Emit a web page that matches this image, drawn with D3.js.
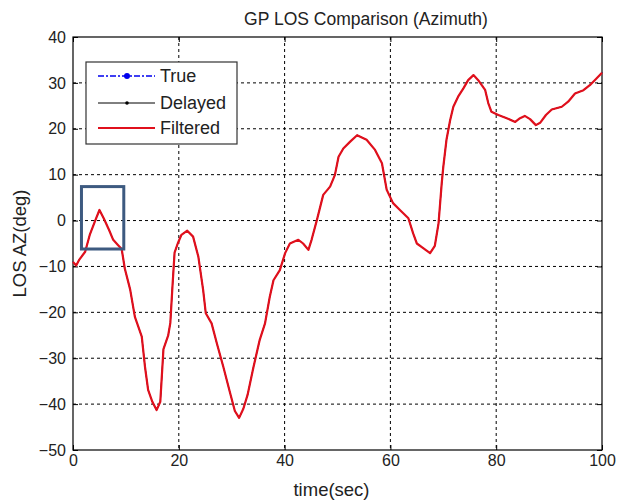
<!DOCTYPE html>
<html>
<head>
<meta charset="utf-8">
<script src="https://cdn.jsdelivr.net/npm/d3@7"></script>
<style>
  html, body { margin: 0; padding: 0; background: #fff; }
  svg { display: block; }
  text { font-family: "Liberation Sans", Arial, sans-serif; fill: #222; }
</style>
</head>
<body>
<svg id="chart" width="629" height="502"></svg>
<script>
// ---- data ----
const time = [0, 0.6, 1.2, 2.3, 3.2, 4.2, 5.0, 5.8, 6.8, 7.6, 8.4, 9.2, 9.8, 10.8, 11.7, 13.0, 13.6, 14.2, 15.0, 15.8, 16.5, 17.1, 18.0, 18.4, 18.8, 19.2, 19.8, 20.5, 21.6, 22.7, 23.7, 24.6, 25.1, 26.2, 27.2, 28.4, 29.7, 30.6, 31.4, 32.2, 33.0, 34.1, 35.3, 36.3, 37.2, 37.9, 39.1, 40.1, 41.0, 42.6, 43.5, 44.5, 45.1, 46.1, 47.3, 48.6, 49.5, 50.2, 51.1, 52.4, 53.7, 55.5, 57.1, 58.4, 59.3, 60.5, 61.8, 63.4, 64.3, 65.0, 66.2, 67.5, 68.4, 69.1, 69.7, 70.0, 70.6, 71.3, 71.9, 72.8, 73.8, 74.7, 75.7, 76.6, 77.9, 78.5, 79.1, 80.4, 82.0, 83.6, 84.5, 85.4, 86.4, 87.5, 88.3, 89.4, 90.5, 92.4, 93.6, 94.9, 96.5, 97.7, 99.0, 100];
const filtered = [-9, -9.8, -8.5, -6.8, -3, 0, 2.3, 0.5, -2, -4.2, -5.2, -6.2, -10.5, -15, -21, -25.3, -31.8, -36.9, -39.5, -41.3, -39.5, -28, -25, -22.3, -14.4, -7, -5, -3.1, -2.2, -3.5, -7.9, -15.1, -20.2, -22.4, -26.8, -31.8, -37.6, -41.5, -43, -41, -38, -32, -26, -22.4, -16.6, -13, -10.8, -7.1, -5.0, -4.2, -5.0, -6.4, -4.2, 0.1, 5.6, 7.4, 9.9, 13.9, 15.7, 17.2, 18.6, 17.6, 15.4, 12.5, 6.7, 3.8, 2.3, 0.5, -2.8, -5.0, -6.0, -7.1, -5.5, -0.6, 8.1, 11.7, 17.6, 21.9, 24.8, 27.0, 28.8, 30.6, 31.7, 30.6, 28.5, 25.6, 23.7, 23.0, 22.3, 21.5, 22.3, 22.8, 22.1, 20.8, 21.3, 23.0, 24.2, 24.8, 25.9, 27.7, 28.4, 29.5, 31, 32.2];
const trueVals = filtered.slice();     // hidden beneath the filtered curve
const delayedVals = filtered.slice();  // hidden beneath the filtered curve
const xTicks = [0, 20, 40, 60, 80, 100];
const yTicks = [-50, -40, -30, -20, -10, 0, 10, 20, 30, 40];
const legendLabels = ["True", "Delayed", "Filtered"];
const highlightBox = { t0: 1.6, t1: 9.6, v0: -6.2, v1: 7.4 };

// ---- layout ----
const svg = d3.select("#chart");
const L = 73, R = 602, T = 37, B = 450;
const x = d3.scaleLinear().domain([0, 100]).range([L, R]);
const y = d3.scaleLinear().domain([-50, 40]).range([B, T]);

// grid
const grid = svg.append("g");
grid.selectAll(".gx").data(xTicks.slice(1, -1)).enter().append("line")
  .attr("x1", d => x(d)).attr("x2", d => x(d)).attr("y1", T).attr("y2", B)
  .attr("stroke", "#000").attr("stroke-width", 1).attr("stroke-dasharray", "3,3");
grid.selectAll(".gy").data(yTicks.slice(1, -1)).enter().append("line")
  .attr("x1", L).attr("x2", R).attr("y1", d => y(d)).attr("y2", d => y(d))
  .attr("stroke", "#000").attr("stroke-width", 1).attr("stroke-dasharray", "3,3");

// axes (inward ticks, MATLAB style)
const fs = "16px";
const xAxisB = d3.axisBottom(x).tickValues(xTicks).tickSizeInner(-5).tickSizeOuter(0).tickPadding(5);
const xAxisT = d3.axisTop(x).tickValues(xTicks).tickSizeInner(-5).tickSizeOuter(0).tickFormat("");
const yAxisL = d3.axisLeft(y).tickValues(yTicks).tickSizeInner(-5).tickSizeOuter(0).tickPadding(7);
const yAxisR = d3.axisRight(y).tickValues(yTicks).tickSizeInner(-5).tickSizeOuter(0).tickFormat("");

function styleAxis(g) {
  g.select(".domain").remove();
  g.selectAll("line").attr("stroke", "#000");
  g.selectAll("text").attr("font-size", fs).attr("fill", "#222")
    .attr("font-family", "'Liberation Sans', Arial, sans-serif");
}
svg.append("g").attr("transform", `translate(0,${B})`).call(xAxisB).call(styleAxis);
svg.append("g").attr("transform", `translate(0,${T})`).call(xAxisT).call(styleAxis);
svg.append("g").attr("transform", `translate(${L},0)`).call(yAxisL).call(styleAxis);
svg.append("g").attr("transform", `translate(${R},0)`).call(yAxisR).call(styleAxis);

// frame
svg.append("rect").attr("x", L).attr("y", T).attr("width", R - L).attr("height", B - T)
  .attr("fill", "none").attr("stroke", "#000").attr("stroke-width", 1.2);

// lines
const mk = vals => d3.line().x((d, i) => x(time[i])).y(d => y(d))(vals);
svg.append("path").attr("d", mk(trueVals)).attr("fill", "none")
  .attr("stroke", "#0000ee").attr("stroke-width", 1);
svg.append("path").attr("d", mk(delayedVals)).attr("fill", "none")
  .attr("stroke", "#000").attr("stroke-width", 1);
svg.append("path").attr("d", mk(filtered)).attr("fill", "none")
  .attr("stroke", "#e0101c").attr("stroke-width", 2.2).attr("stroke-linejoin", "round");

// highlight box
svg.append("rect")
  .attr("x", x(highlightBox.t0)).attr("y", y(highlightBox.v1))
  .attr("width", x(highlightBox.t1) - x(highlightBox.t0))
  .attr("height", y(highlightBox.v0) - y(highlightBox.v1))
  .attr("fill", "none").attr("stroke", "#3d5a80").attr("stroke-width", 3);

// legend
const lg = svg.append("g");
lg.append("rect").attr("x", 86).attr("y", 62).attr("width", 151).attr("height", 82)
  .attr("fill", "#fff").attr("stroke", "#333").attr("stroke-width", 1.2);
const ly = [76, 103, 128];
// True
lg.append("line").attr("x1", 98).attr("x2", 155).attr("y1", ly[0]).attr("y2", ly[0])
  .attr("stroke", "#0000ee").attr("stroke-width", 1.3).attr("stroke-dasharray", "6,2,2,2");
lg.append("circle").attr("cx", 127).attr("cy", ly[0]).attr("r", 3).attr("fill", "#0000ee");
// Delayed
lg.append("line").attr("x1", 98).attr("x2", 155).attr("y1", ly[1]).attr("y2", ly[1])
  .attr("stroke", "#000").attr("stroke-width", 1);
lg.append("circle").attr("cx", 127).attr("cy", ly[1]).attr("r", 1.8).attr("fill", "#000");
// Filtered
lg.append("line").attr("x1", 98).attr("x2", 155).attr("y1", ly[2]).attr("y2", ly[2])
  .attr("stroke", "#e0101c").attr("stroke-width", 2);
lg.selectAll(".lt").data(legendLabels).enter().append("text")
  .attr("x", 160).attr("y", (d, i) => ly[i]).attr("dy", "0.35em")
  .attr("font-size", "18px").text(d => d);

// titles
svg.append("text").attr("x", 366).attr("y", 25).attr("text-anchor", "middle")
  .attr("font-size", "17.5px").text("GP LOS Comparison (Azimuth)");
svg.append("text").attr("x", (L + R) / 2 - 6).attr("y", 496).attr("text-anchor", "middle")
  .attr("font-size", "18.5px").text("time(sec)");
svg.append("text").attr("transform", `translate(26,${(T + B) / 2}) rotate(-90)`)
  .attr("text-anchor", "middle").attr("font-size", "18.5px").text("LOS AZ(deg)");
</script>
</body>
</html>
